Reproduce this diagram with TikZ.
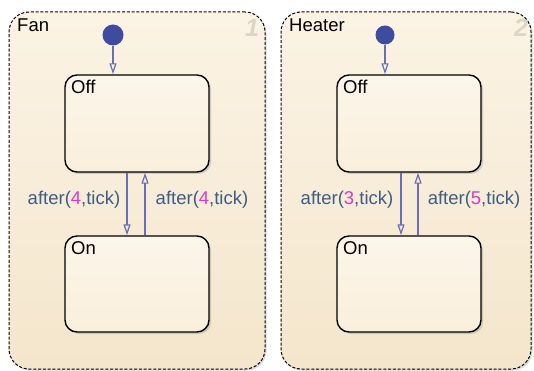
\documentclass[tikz,border=0pt]{standalone}
\usepackage{fontspec}
\setmainfont{Liberation Sans}
\usetikzlibrary{arrows.meta,shadows,calc}
\definecolor{superfill}{HTML}{F4E6CC}
\definecolor{supertop}{HTML}{FBF3E4}
\definecolor{statefill}{HTML}{FAEFDC}
\definecolor{statetop}{HTML}{FCF5EA}
\definecolor{trcol}{HTML}{6A6FB5}
\definecolor{dotcol}{HTML}{3F4B9E}
\definecolor{lblcol}{HTML}{3D5D84}
\definecolor{numcol}{HTML}{D63CC9}
\definecolor{idxcol}{HTML}{DDD5C8}
\tikzset{
  superbox/.style={draw=black, dashed, dash pattern=on 3pt off 1.8pt, line width=1pt,
    rounded corners=20pt, top color=supertop, bottom color=superfill,
    drop shadow={opacity=0.3, shadow xshift=1.5pt, shadow yshift=-1.5pt}},
  statebox/.style={draw=black, line width=1.4pt, rounded corners=12pt,
    top color=statetop, bottom color=statefill,
    drop shadow={opacity=0.3, shadow xshift=2pt, shadow yshift=-2pt}},
  initdot/.style={circle, fill=dotcol, inner sep=0pt, minimum size=21pt},
  trans/.style={draw=trcol, line width=1.5pt, -{Triangle[open, length=11pt, width=7pt, line width=1.2pt]}},
  txt/.style={font=\fontsize{18.5}{20}\selectfont, inner sep=0pt, anchor=base west},
  lbl/.style={font=\fontsize{18.5}{20}\selectfont, text=lblcol, inner sep=0pt},
  idx/.style={font=\fontsize{25}{27}\selectfont\itshape\bfseries, text=idxcol, inner sep=0pt}
}
\begin{document}
\begin{tikzpicture}[x=1pt,y=-1pt]
\useasboundingbox (0,0) rectangle (534,371);
% superstates
\node[superbox, minimum width=256pt, minimum height=357pt] (fan) at (137,190.5) {};
\node[superbox, minimum width=250pt, minimum height=357pt] (heater) at (406,190.5) {};
\node[txt] (fanlbl) at (17,32) {Fan};
\node[txt] (heaterlbl) at (289,32) {Heater};
\node[idx] (fanidx) at (252,28) {1};
\node[idx] (heateridx) at (521,28) {2};
% states
\node[statebox, minimum width=144pt, minimum height=97pt] (offF) at (137,123.5) {};
\node[statebox, minimum width=144pt, minimum height=96pt] (onF) at (137,284) {};
\node[statebox, minimum width=144pt, minimum height=97pt] (offH) at (409,123.5) {};
\node[statebox, minimum width=144pt, minimum height=96pt] (onH) at (409,284) {};
\node[txt] (offFl) at (71,94) {Off};
\node[txt] (onFl) at (71,254) {On};
\node[txt] (offHl) at (343,94) {Off};
\node[txt] (onHl) at (343,254) {On};
% initial dots
\node[initdot] (dotF) at (113,35) {};
\node[initdot, minimum size=19pt] (dotH) at (385,35) {};
\draw[trans] (dotF) -- (dotF |- offF.north);
\draw[trans] (dotH) -- (dotH |- offH.north);
% transitions
\draw[trans] ([xshift=-10pt]offF.south) -- ([xshift=-10pt]onF.north);
\draw[trans] ([xshift=8pt]onF.north) -- ([xshift=8pt]offF.south);
\draw[trans] ([xshift=-8pt]offH.south) -- ([xshift=-8pt]onH.north);
\draw[trans] ([xshift=9pt]onH.north) -- ([xshift=9pt]offH.south);
% labels
\node[lbl] (tF1) at (74,200) {after(\textcolor{numcol}{4},tick)};
\node[lbl] (tF2) at (202,200) {after(\textcolor{numcol}{4},tick)};
\node[lbl] (tH1) at (347,200) {after(\textcolor{numcol}{3},tick)};
\node[lbl] (tH2) at (474,200) {after(\textcolor{numcol}{5},tick)};
\end{tikzpicture}
\end{document}
